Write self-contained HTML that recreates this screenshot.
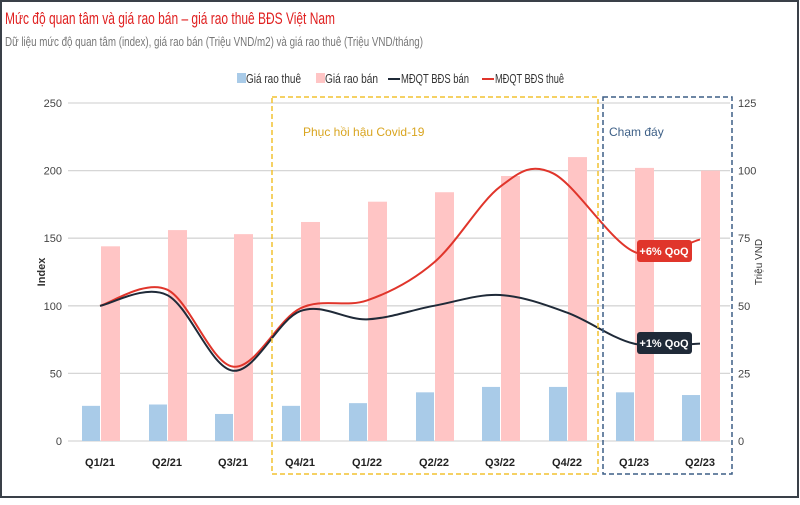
<!DOCTYPE html>
<html><head><meta charset="utf-8"><style>
body{margin:0;width:800px;height:500px;overflow:hidden;background:#fff;font-family:"Liberation Sans",sans-serif}
</style></head><body>
<svg id="s" width="800" height="500" xmlns="http://www.w3.org/2000/svg" font-family="Liberation Sans, sans-serif">
<rect x="1" y="1" width="797" height="496" fill="#fff" stroke="#3a4048" stroke-width="2"/>
<text x="5" y="24" font-size="17" fill="#e02020" textLength="330" lengthAdjust="spacingAndGlyphs">Mức độ quan tâm và giá rao bán – giá rao thuê BĐS Việt Nam</text>
<text x="5" y="46" font-size="13" fill="#777" textLength="418" lengthAdjust="spacingAndGlyphs">Dữ liệu mức độ quan tâm (index), giá rao bán (Triệu VND/m2) và giá rao thuê (Triệu VND/tháng)</text>
<g font-size="13" fill="#333">
<rect x="237" y="73" width="9" height="10" fill="#a9cbe8"/><text x="246" y="83" textLength="55" lengthAdjust="spacingAndGlyphs">Giá rao thuê</text>
<rect x="316" y="73" width="9" height="10" fill="#ffc5c5"/><text x="325" y="83" textLength="53" lengthAdjust="spacingAndGlyphs">Giá rao bán</text>
<line x1="388" y1="79" x2="400" y2="79" stroke="#1f2a38" stroke-width="2"/><text x="401" y="83" textLength="68" lengthAdjust="spacingAndGlyphs">MĐQT BĐS bán</text>
<line x1="482" y1="79" x2="494" y2="79" stroke="#e0352b" stroke-width="2"/><text x="495" y="83" textLength="69" lengthAdjust="spacingAndGlyphs">MĐQT BĐS thuê</text>
</g>
<g id="g"></g>
</svg>
<script>
var g=document.getElementById('g'),h='';
function Y(v){return 441-v*1.352}
[0,50,100,150,200,250].forEach(function(v,i){var y=Y(v);
h+='<line x1="68" x2="730" y1="'+y+'" y2="'+y+'" stroke="#d6d6d6" stroke-width="1.3"/>';
h+='<text x="62" y="'+(y+4)+'" font-size="11" fill="#444" text-anchor="end">'+v+'</text>';
h+='<text x="738" y="'+(y+4)+'" font-size="11" fill="#444">'+(v/2)+'</text>';});
var cx=[100,167,233,300,367,434,500,567,634,700];
var lab=['Q1/21','Q2/21','Q3/21','Q4/21','Q1/22','Q2/22','Q3/22','Q4/22','Q1/23','Q2/23'];
var pk=[144,156,153,162,177,184,196,210,202,200],bl=[26,27,20,26,28,36,40,40,36,34];
cx.forEach(function(x,i){
h+='<rect x="'+(x-18)+'" y="'+Y(bl[i])+'" width="18" height="'+(bl[i]*1.352)+'" fill="#a9cbe8"/>';
h+='<rect x="'+(x+1)+'" y="'+Y(pk[i])+'" width="19" height="'+(pk[i]*1.352)+'" fill="#ffc5c5"/>';
h+='<text x="'+x+'" y="466" font-size="11" font-weight="bold" fill="#222" text-anchor="middle">'+lab[i]+'</text>';});
function path(pts){var d='M'+pts[0][0]+','+pts[0][1];for(var i=0;i<pts.length-1;i++){var p0=pts[i-1]||pts[i],p1=pts[i],p2=pts[i+1],p3=pts[i+2]||p2;
d+=' C'+(p1[0]+(p2[0]-p0[0])/6)+','+(p1[1]+(p2[1]-p0[1])/6)+' '+(p2[0]-(p3[0]-p1[0])/6)+','+(p2[1]-(p3[1]-p1[1])/6)+' '+p2[0]+','+p2[1];}return d;}
var bk=[100,108,52,96,90,100,108,95,72,72],rd=[100,112,55,98,104,132,188,197,140,149];
var bp=cx.map(function(x,i){return [x,Y(bk[i])]}),rp=cx.map(function(x,i){return [x,Y(rd[i])]});
rp[7]=[553,Y(198)];
h+='<path d="'+path(rp)+'" fill="none" stroke="#e0352b" stroke-width="2"/>';
h+='<path d="'+path(bp)+'" fill="none" stroke="#1f2a38" stroke-width="2"/>';
h+='<rect x="272" y="97" width="326" height="377" fill="none" stroke="#f2c230" stroke-width="1.5" stroke-dasharray="5,3"/>';
h+='<rect x="603" y="97" width="129" height="377" fill="none" stroke="#3d5f86" stroke-width="1.5" stroke-dasharray="5,3"/>';
h+='<text x="303" y="136" font-size="12" fill="#d9a520">Phục hồi hậu Covid-19</text>';
h+='<text x="609" y="136" font-size="12" fill="#3d5f86">Chạm đáy</text>';
h+='<rect x="637" y="240" width="55" height="22" rx="3" fill="#e0352b"/><text x="664" y="255" font-size="11" font-weight="bold" fill="#fff" text-anchor="middle">+6% QoQ</text>';
h+='<rect x="637" y="332" width="55" height="22" rx="3" fill="#1f2a38"/><text x="664" y="347" font-size="11" font-weight="bold" fill="#fff" text-anchor="middle">+1% QoQ</text>';
h+='<text transform="translate(45,272) rotate(-90)" font-size="11" font-weight="bold" fill="#333" text-anchor="middle">Index</text>';
h+='<text transform="translate(762,262) rotate(-90)" font-size="10" fill="#333" text-anchor="middle">Triệu VND</text>';
g.innerHTML=h;
</script>
</body></html>
